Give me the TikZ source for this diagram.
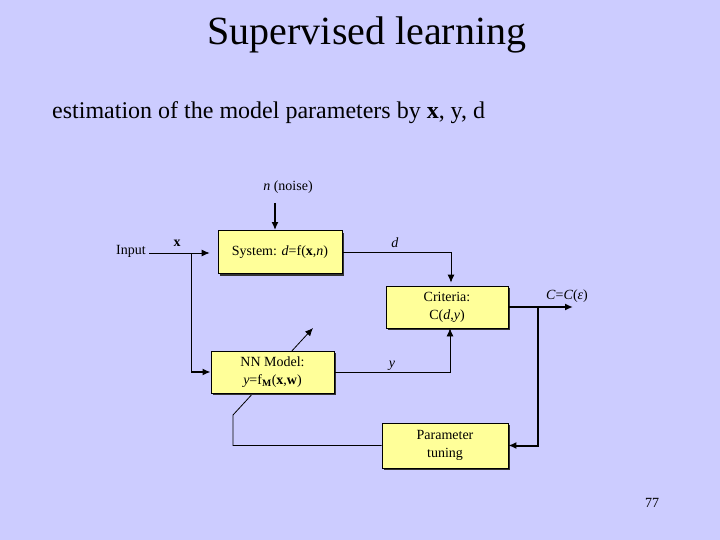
\documentclass[tikz,border=0pt]{standalone}
\usepackage{fontspec}
\setmainfont{Liberation Serif}
\usetikzlibrary{arrows.meta,shadows,backgrounds}
\definecolor{slidebg}{RGB}{204,204,255}
\definecolor{boxfill}{RGB}{255,255,153}
\tikzstyle{block}=[draw=black, fill=boxfill, line width=0.8pt, inner sep=0pt, align=center, font=\fontsize{14}{18}\selectfont, drop shadow={shadow xshift=2pt, shadow yshift=-2pt, fill=black!80, opacity=1}]
\tikzstyle{arrow}=[draw=black, line width=0.8pt, -{Latex[length=8pt,width=7pt]}]
\tikzstyle{heavy}=[arrow, line width=2pt]
\tikzstyle{lbl}=[font=\fontsize{14}{17}\selectfont, inner sep=0pt]

\begin{document}
\begin{tikzpicture}[x=1pt,y=-1pt]
		   \begin{scope}[on background layer]
		   \fill[slidebg] (0,0) rectangle (720,540);
		   \end{scope}
		   \node[font=\fontsize{40}{44}\selectfont] (title) at (367,35) {Supervised learning};
		   \node[anchor=west, font=\fontsize{24}{28}\selectfont, inner sep=0pt] (sub) at (52,113) {estimation of the model parameters by \textbf{x}, y, d};

		   % blocks
		   \node[block, minimum width=124pt, minimum height=43pt] (sys) at (280,252) {System: \textit{d}=f(\textbf{x},\textit{n})};
		   \node[block, minimum width=122pt, minimum height=42pt] (crit) at (447,307) {Criteria:\\C(\textit{d},\textit{y})};
		   \node[block, minimum width=123pt, minimum height=42pt] (nn) at (272.5,372) {NN Model:\\\textit{y}=f\textsubscript{\textbf{M}}(\textbf{x},\textbf{w})};
		   \node[block, minimum width=126pt, minimum height=45pt] (tune) at (445,445.5) {Parameter\\tuning};

		   % labels
		   \node[lbl] (noise) at (288,187) {\textit{n} (noise)};
		   \node[lbl, anchor=east] (input) at (146,251) {Input};
		   \node[lbl] (xlbl) at (177,243) {\textbf{x}};
		   \node[lbl] (dlbl) at (395,243) {\textit{d}};
		   \node[lbl] (ylbl) at (392,366) {\textit{y}};
		   \node[lbl] (clbl) at (567,296) {\textit{C}=\textit{C}(\textit{ε})};
		   \node[lbl] (page) at (652,503) {77};

		   \coordinate (nz) at (275,203);
		   \coordinate (br1) at (191,253);
		   \coordinate (br3) at (191,372);
		   \coordinate (cout) at (573,307);
		   \coordinate (br2) at (538,307);
		   \coordinate (fb) at (233,415);
		   \coordinate (wt) at (313,328);

		   % connectors
		   \draw[heavy] (nz) -- (nz |- sys.north);
		   \draw[arrow, shorten <=3pt, shorten >=8pt] (input.east |- br1) -- (sys.west |- br1);
		   \draw[line width=0.8pt] (br1) -- (br3);
		   \draw[heavy] (br3) -- (nn.west);
		   \draw[arrow, shorten >=3pt] (sys.east) -| ([xshift=4pt]crit.north);
		   \draw[arrow] (nn.east) -| ([xshift=3pt]crit.south);
		   \draw[heavy] (crit.east) -- (cout);
		   \draw[heavy] (br2) |- (tune.east);
		   \begin{scope}[on background layer]
		   \draw[arrow] (tune.west) -| (fb) -- (wt);
		   \end{scope}
	   \end{tikzpicture}
\end{document}
